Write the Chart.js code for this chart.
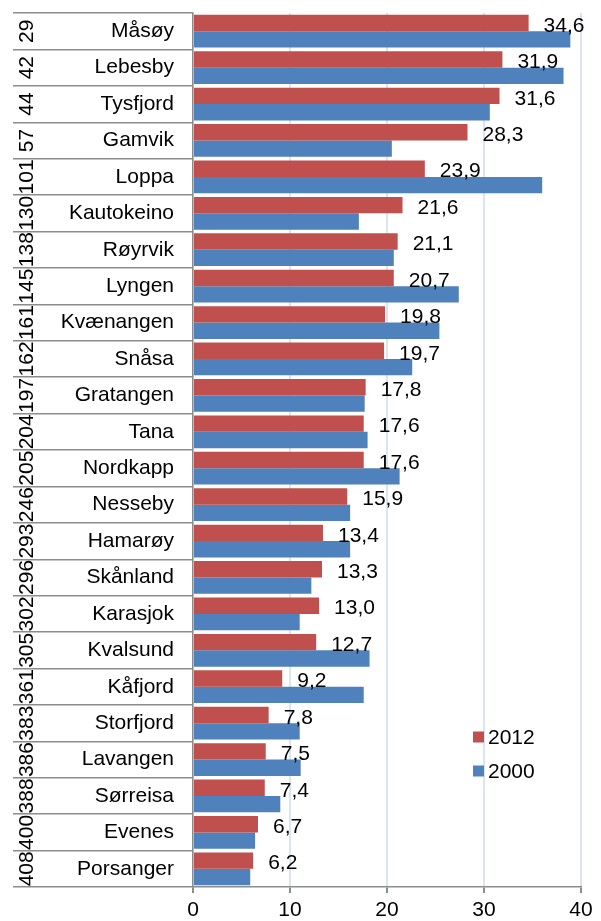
<!DOCTYPE html>
<html>
<head>
<meta charset="utf-8">
<script src="https://cdn.jsdelivr.net/npm/chart.js@4.4.0/dist/chart.umd.min.js"></script>
<style>
  html, body { margin: 0; padding: 0; background: #fff; }
  #wrap { width: 601px; height: 921px; position: relative; }
</style>
</head>
<body>
<div id="wrap"><canvas id="chart"></canvas></div>
<script>
// kommuner, rangering og verdier lest av figuren
var kommuner = ['Måsøy', 'Lebesby', 'Tysfjord', 'Gamvik', 'Loppa', 'Kautokeino', 'Røyrvik', 'Lyngen',
  'Kvænangen', 'Snåsa', 'Gratangen', 'Tana', 'Nordkapp', 'Nesseby', 'Hamarøy', 'Skånland',
  'Karasjok', 'Kvalsund', 'Kåfjord', 'Storfjord', 'Lavangen', 'Sørreisa', 'Evenes', 'Porsanger'];
var rangering = [29, 42, 44, 57, 101, 130, 138, 145, 161, 162, 197, 204, 205, 246, 293, 296,
  302, 305, 361, 383, 386, 388, 400, 408];
var verdier2012 = [34.6, 31.9, 31.6, 28.3, 23.9, 21.6, 21.1, 20.7, 19.8, 19.7, 17.8, 17.6,
  17.6, 15.9, 13.4, 13.3, 13.0, 12.7, 9.2, 7.8, 7.5, 7.4, 6.7, 6.2];
var verdier2000 = [38.9, 38.2, 30.6, 20.5, 36.0, 17.1, 20.7, 27.4, 25.4, 22.6, 17.7, 18.0,
  21.3, 16.2, 16.2, 12.2, 11.0, 18.2, 17.6, 11.0, 11.1, 9.0, 6.4, 5.9];
var aarstall = ['2012', '2000'];
var xMin = 0, xMax = 40, xStep = 10;

var FONT = 'Liberation Sans, Arial, sans-serif';
var RED = '#C0504D';
var BLUE = '#4F81BD';
var GRAY = '#8c8c8c';

function fmt(v) {
  return v.toFixed(1).replace('.', ',');
}

// verdietiketter for 2012, rangering til venstre og egen forklaring
var ekstra = {
  id: 'ekstra',
  afterDatasetsDraw: function(chart) {
    var ctx = chart.ctx;
    ctx.save();
    ctx.font = '21px ' + FONT;
    ctx.fillStyle = '#000';
    ctx.textAlign = 'left';
    ctx.textBaseline = 'middle';
    var meta = chart.getDatasetMeta(0);
    meta.data.forEach(function(bar, i) {
      ctx.fillText(fmt(verdier2012[i]), bar.x + 15, bar.y + 3);
    });

    // rangering, rotert
    var yScale = chart.scales.y;
    rangering.forEach(function(r, i) {
      var y = yScale.getPixelForValue(i);
      ctx.save();
      ctx.translate(27, y);
      ctx.rotate(-Math.PI / 2);
      ctx.textAlign = 'center';
      ctx.textBaseline = 'middle';
      ctx.fillText(String(r), 0, 0);
      ctx.restore();
    });

    // forklaring
    var lx = 473, ly = [737, 771];
    chart.data.datasets.forEach(function(ds, i) {
      ctx.fillStyle = ds.backgroundColor;
      ctx.fillRect(lx, ly[i] - 5.5, 11, 11);
      ctx.fillStyle = '#000';
      ctx.textAlign = 'left';
      ctx.fillText(ds.label, lx + 15, ly[i] + 1);
    });
    ctx.restore();
  }
};

var ctx = document.getElementById('chart').getContext('2d');
var chart = new Chart(ctx, {
  type: 'bar',
  data: {
    labels: kommuner,
    datasets: [{
      label: aarstall[0],
      data: verdier2012,
      backgroundColor: RED
    }, {
      label: aarstall[1],
      data: verdier2000,
      backgroundColor: BLUE
    }]
  },
  options: {
    indexAxis: 'y',
    responsive: true,
    maintainAspectRatio: false,
    animation: false,
    devicePixelRatio: 1,
    layout: { padding: { left: 13, top: 13, right: 20, bottom: 0 } },
    datasets: {
      bar: { categoryPercentage: 0.9, barPercentage: 1.0 }
    },
    scales: {
      x: {
        min: xMin,
        max: xMax,
        ticks: { stepSize: xStep, color: '#000', font: { size: 21, family: FONT }, padding: 5 },
        grid: { color: '#dbe5f1', lineWidth: 2, tickColor: GRAY, tickLength: 6 },
        border: { color: GRAY, width: 1.5 },
        afterFit: function(s) { s.height = 34; }
      },
      y: {
        ticks: { color: '#000', font: { size: 21, family: FONT }, padding: -161, autoSkip: false },
        grid: { drawOnChartArea: false, color: GRAY, lineWidth: 1.5, tickLength: 180, offset: true },
        border: { color: GRAY, width: 1.5 },
        afterFit: function(s) { s.width = 180; }
      }
    },
    plugins: {
      legend: { display: false },
      tooltip: { enabled: false }
    }
  },
  plugins: [ekstra]
});
</script>
</body>
</html>
